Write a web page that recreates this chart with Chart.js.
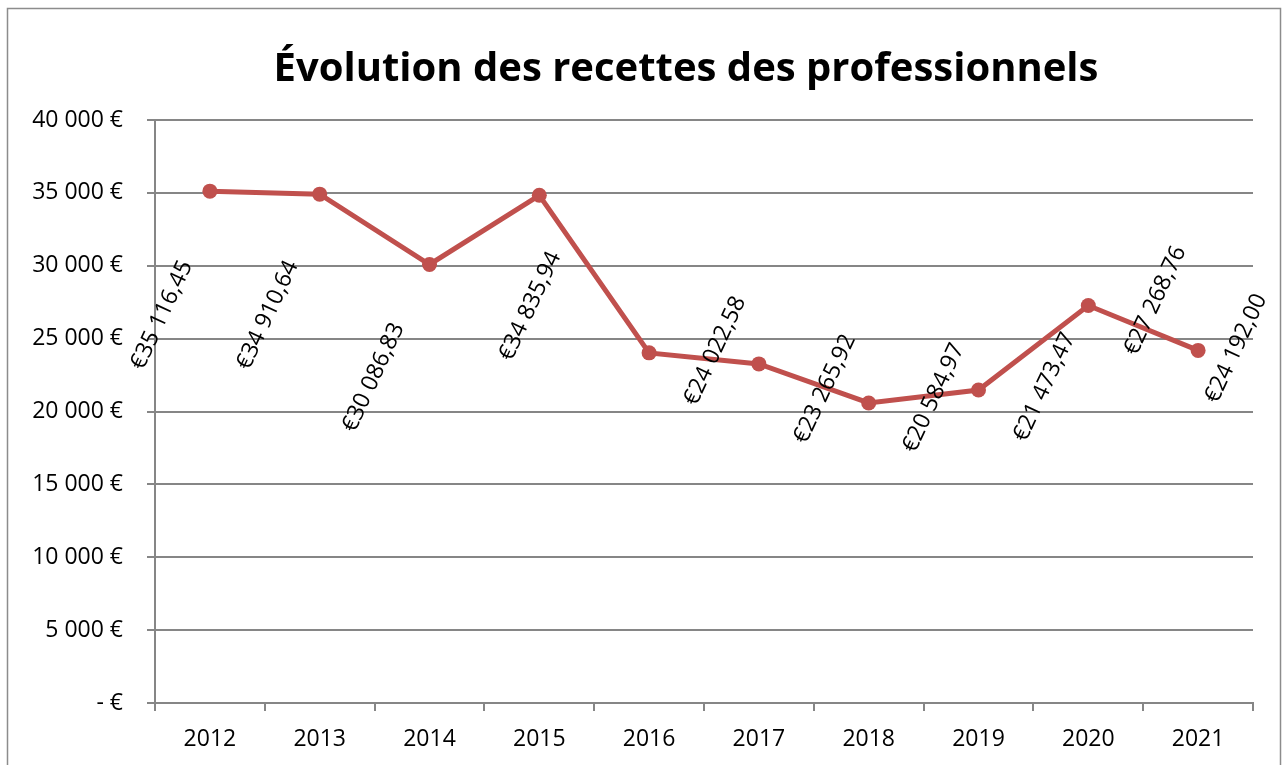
<!DOCTYPE html>
<html>
<head>
<meta charset="utf-8">
<script src="https://cdn.jsdelivr.net/npm/chart.js@4.4.1/dist/chart.umd.min.js"></script>
<style>
  html, body { margin: 0; padding: 0; background: #fff; }
  #wrap { width: 1285px; height: 765px; position: relative; }
</style>
</head>
<body>
<div id="wrap"><canvas id="chartRecettes"></canvas></div>
<script>
// Données
const annees = ["2012", "2013", "2014", "2015", "2016", "2017", "2018", "2019", "2020", "2021"];
const recettes = [35116.45, 34910.64, 30086.83, 34835.94, 24022.58, 23265.92, 20584.97, 21473.47, 27268.76, 24192.0];
const yTicks = [0, 5000, 10000, 15000, 20000, 25000, 30000, 35000, 40000];
const titre = "Évolution des recettes des professionnels";

// 35116.45 -> "€35 116,45"
function euroLabel(v) {
  const parts = v.toFixed(2).split(".");
  return "€" + parts[0].replace(/\B(?=(\d{3})+(?!\d))/g, " ") + "," + parts[1];
}

// 40000 -> "40 000 €", 0 -> "- €"
function tickLabel(v) {
  if (v === 0) return "- €";
  return String(v).replace(/\B(?=(\d{3})+(?!\d))/g, " ") + " €";
}

// Cadre gris + titre (centré comme dans Excel)
const cadre = {
  id: "cadre",
  beforeDraw(chart, args, opts) {
    const ctx = chart.ctx;
    ctx.save();
    ctx.fillStyle = "#fff";
    ctx.fillRect(0, 0, chart.width, chart.height);
    ctx.strokeStyle = "#8c8c8c";
    ctx.lineWidth = 1.5;
    ctx.strokeRect(7.5, 8.5, 1273, 800);
    ctx.fillStyle = "#000";
    ctx.font = "bold 40px 'Open Sans'";
    ctx.textAlign = "center";
    ctx.textBaseline = "alphabetic";
    ctx.fillText(opts.text, opts.x, opts.y);
    ctx.restore();
  },
};

// Étiquettes de données inclinées (placées à la main comme dans Excel)
const etiquettes = {
  id: "etiquettes",
  afterDatasetsDraw(chart, args, opts) {
    const ctx = chart.ctx;
    const meta = chart.getDatasetMeta(0);
    ctx.save();
    ctx.font = opts.font;
    ctx.fillStyle = "#000";
    ctx.textAlign = "center";
    ctx.textBaseline = "middle";
    meta.data.forEach((pt, i) => {
      const off = opts.offsets[i];
      ctx.save();
      ctx.translate(pt.x + off[0], pt.y + off[1]);
      ctx.rotate((-65 * Math.PI) / 180);
      ctx.fillText(euroLabel(recettes[i]), 0, 0);
      ctx.restore();
    });
    ctx.restore();
  },
};

const recCtx = document.getElementById("chartRecettes");

new Chart(recCtx, {
  type: "line",
  data: {
    labels: annees,
    datasets: [
      {
        label: "Recettes",
        data: recettes,
        borderColor: "#c0504d",
        borderWidth: 5,
        tension: 0,
        pointRadius: 7.5,
        pointBackgroundColor: "#c0504d",
        pointBorderColor: "#c0504d",
        pointBorderWidth: 0,
      },
    ],
  },
  options: {
    responsive: true,
    maintainAspectRatio: false,
    animation: false,
    layout: {
      padding: { left: 0, right: 32, top: 120, bottom: 0 },
    },
    scales: {
      x: {
        offset: true,
        afterFit(axis) {
          axis.height = 62;
        },
        grid: {
          display: true,
          drawOnChartArea: false,
          offset: true,
          color: "#868686",
          lineWidth: 2,
          tickLength: 8,
        },
        border: { color: "#868686", width: 2 },
        ticks: {
          color: "#000",
          font: { family: "Open Sans", size: 23 },
          padding: 15,
          maxRotation: 0,
        },
      },
      y: {
        min: 0,
        max: 40000,
        afterBuildTicks(axis) {
          axis.ticks = yTicks.map((v) => ({ value: v }));
        },
        afterFit(axis) {
          axis.width = 155;
        },
        grid: {
          color: "#868686",
          lineWidth: 2,
          tickLength: 8,
        },
        border: { color: "#868686", width: 2 },
        ticks: {
          color: "#000",
          font: { family: "Open Sans", size: 23 },
          padding: 24,
          callback: (v) => tickLabel(v),
        },
      },
    },
    plugins: {
      legend: { display: false },
      tooltip: { enabled: false },
      title: { display: false },
      cadre: { text: titre, x: 686, y: 81 },
      etiquettes: {
        font: "23px 'Open Sans'",
        offsets: [
          [-48, 124], [-52, 121], [-56, 113], [-9, 111], [66, -2],
          [66, 25], [65, -5], [66, -3], [67, -5], [38, -2],
        ],
      },
    },
  },
  plugins: [cadre, etiquettes],
});
</script>
</body>
</html>
